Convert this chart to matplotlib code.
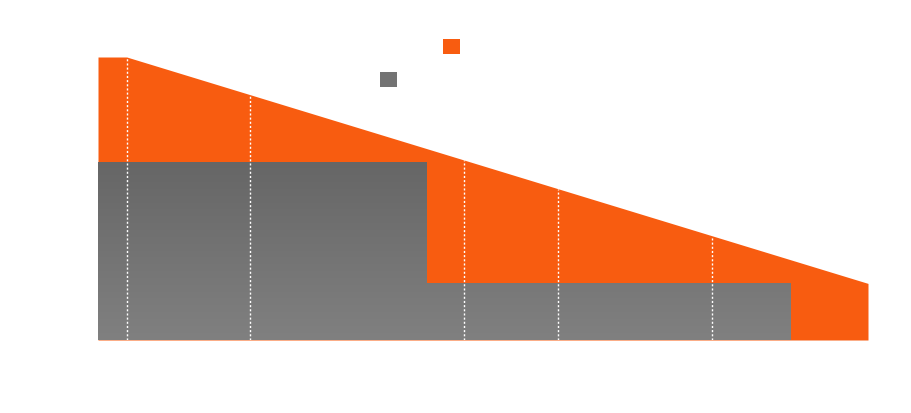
import numpy as np
import matplotlib
matplotlib.use("Agg")
import matplotlib.pyplot as plt
from matplotlib.colors import LinearSegmentedColormap
from matplotlib.patches import Patch

# ---- data ----
orange_x = [0, 3.73, 100]
orange_y = [100, 100, 20]
gray_edges = [0, 42.73, 90.0]
gray_values = [63, 20]
marker_x = [3.73, 19.74, 47.53, 59.74, 79.74]
series_labels = ["Series A", "Series B"]

ORANGE = "#F85C10"

fig = plt.figure(figsize=(9.11, 4.13), dpi=100)
W, H = 911, 413
ax = fig.add_axes([98 / W, (H - 340) / H, 770 / W, 283 / H])
ax.set_xlim(0, 100)
ax.set_ylim(0, 100)

# orange area
ax.fill_between(orange_x, orange_y, 0, color=ORANGE, linewidth=0, zorder=1)

# gray step area with vertical gradient
gx = list(gray_edges)
gy = list(gray_values) + [gray_values[-1]]
coll = ax.fill_between(gx, gy, 0, step="post", color="none", linewidth=0, zorder=2)
cmap = LinearSegmentedColormap.from_list("g", ["#808080", "#666666"])
grad = np.linspace(0, 1, 256).reshape(-1, 1)
im = ax.imshow(grad, cmap=cmap, origin="lower", aspect="auto",
               extent=[gray_edges[0], gray_edges[-1], 0, max(gray_values)], zorder=2)
im.set_clip_path(coll.get_paths()[0], ax.transData)

# dotted white markers
for mx in marker_x:
    top = np.interp(mx, orange_x, orange_y)
    ax.plot([mx, mx], [0, top], color="white", linestyle=(0, (1.5, 1.5)), linewidth=1.0, zorder=3)

ax.set_xlim(0, 100)
ax.set_ylim(0, 100)
for s in ax.spines.values():
    s.set_visible(False)
ax.tick_params(colors="white", length=0)
ax.set_xticks([])
ax.set_yticks([])

# legend (white labels)
common = dict(loc="upper left", frameon=False, handlelength=1.02, handleheight=1.02,
              borderpad=0, borderaxespad=0, fontsize=12, labelcolor="white", handletextpad=0.5)
leg1 = fig.legend(handles=[Patch(facecolor=ORANGE, edgecolor="none")], labels=[series_labels[0]],
                  bbox_to_anchor=(443 / W, 1 - 38 / H), **common)
leg2 = fig.legend(handles=[Patch(facecolor="#737373", edgecolor="none")], labels=[series_labels[1]],
                  bbox_to_anchor=(380 / W, 1 - 71 / H), **common)
fig.add_artist(leg1)

fig.savefig("out.png", dpi=100, facecolor="white")
